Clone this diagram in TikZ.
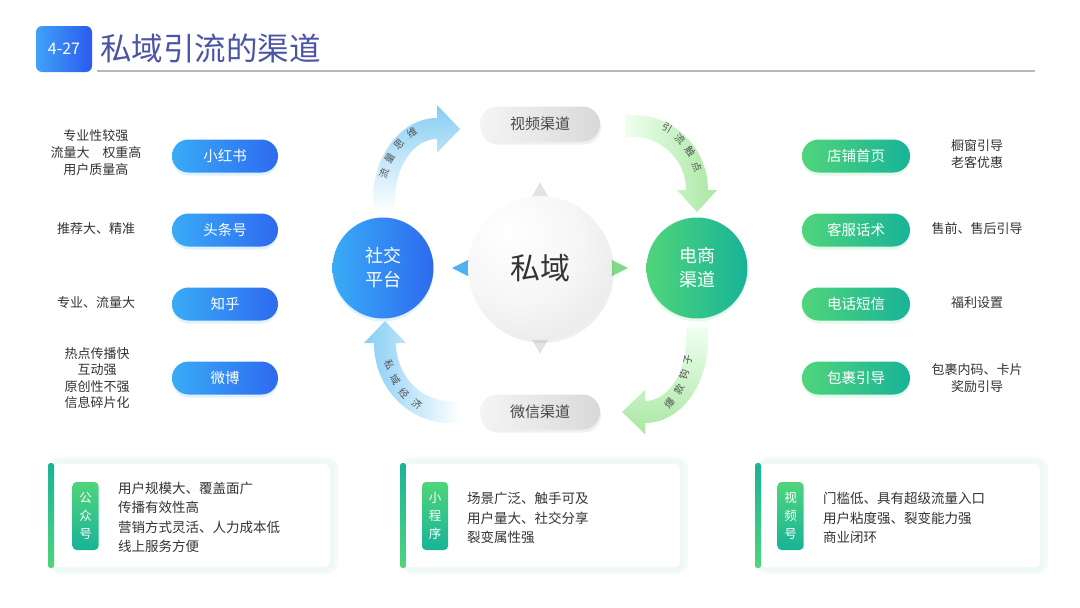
\documentclass[tikz,border=0pt]{standalone}
\usepackage{fontspec}
\setmainfont{Noto Sans CJK SC}
\usetikzlibrary{shadows}
\definecolor{titleblue}{HTML}{4B55A6}
\definecolor{badgeA}{HTML}{3FA2F8}
\definecolor{badgeB}{HTML}{2C5AEF}
\definecolor{blueA}{HTML}{39ABF6}
\definecolor{blueB}{HTML}{2E6AF0}
\definecolor{greenA}{HTML}{50D57B}
\definecolor{greenB}{HTML}{18B398}
\definecolor{textgray}{HTML}{333333}
\definecolor{arrblue}{HTML}{86CDF4}
\definecolor{arrgreen}{HTML}{A9E7A2}
\definecolor{glowc}{HTML}{EEF9F6}
\definecolor{triblue}{HTML}{4DB2EE}
\definecolor{trigreen}{HTML}{7EDB8C}
\pgfdeclarelayer{bg}
\pgfsetlayers{bg,main}
\pgfdeclareradialshading{sphere}{\pgfpoint{-12bp}{14bp}}{color(0bp)=(white); color(22bp)=(gray!7); color(48bp)=(gray!25); color(70bp)=(gray!38)}
\begin{document}
\begin{tikzpicture}[x=1pt,y=-1pt,
  bpill/.style={rectangle, rounded corners=16.5pt, minimum width=106pt, minimum height=33pt, left color=blueA, right color=blueB, text=white, font=\fontsize{14.5}{17}\selectfont, drop shadow={shadow xshift=0pt, shadow yshift=-3pt, opacity=.15, fill=blueA}},
  gpill/.style={rectangle, rounded corners=16.5pt, minimum width=108pt, minimum height=33pt, left color=greenA, right color=greenB, text=white, font=\fontsize{14.5}{17}\selectfont, drop shadow={shadow xshift=0pt, shadow yshift=-3pt, opacity=.15, fill=greenA}},
  graypill/.style={rectangle, rounded corners=17.5pt, minimum width=120pt, minimum height=35pt, left color=gray!8, right color=gray!30, text=textgray!90, font=\fontsize{15}{17}\selectfont, drop shadow={shadow xshift=1pt, shadow yshift=-3pt, opacity=.12}},
  bigcirc/.style={circle, minimum size=101pt, inner sep=0pt, text=white, align=center, font=\fontsize{18}{24}\selectfont},
  lbl/.style={text=textgray, align=center, inner sep=0pt, font=\fontsize{13}{17}\selectfont},
  arrtxt/.style={text=textgray!85, inner sep=0pt, font=\fontsize{10}{12}\selectfont},
  conn/.style={draw=gray!55, line width=0.8pt},
  tagbox/.style={rectangle, rounded corners=4pt, minimum width=26pt, minimum height=68pt, top color=greenA, bottom color=greenB, text=white, align=center, inner sep=0pt, font=\fontsize{12.5}{18}\selectfont},
  cardtxt/.style={anchor=west, text=textgray, align=left, inner sep=0pt, font=\fontsize{13.5}{19.5}\selectfont}
]
\useasboundingbox (0,0) rectangle (1080,608);
\fill[white] (0,0) rectangle (1080,608);

% ---------- title ----------
\node[rectangle, rounded corners=6pt, minimum width=56pt, minimum height=46pt, left color=badgeA, right color=badgeB, text=white, font=\fontsize{16}{18}\selectfont] (badge) at (64,49) {4-27};
\node[anchor=west, inner sep=0pt, text=titleblue, font=\fontsize{31.5}{34}\selectfont] (title) at (100,48) {私域引流的渠道};
\coordinate (ruleA) at (97,71);
\coordinate (ruleB) at (1035,71);
\draw[gray!55, line width=1.3pt] (ruleA) -- (ruleB);

% ---------- curved band arrows ----------
\shade[top color=arrblue, bottom color=white]
  (373,212) -- (373,200) arc[start angle=180,end angle=270,x radius=64,y radius=82]
  -- (437,105) -- (460,129) -- (437,153) -- (437,139)
  arc[start angle=270,end angle=180,x radius=42,y radius=61] -- (395,212) -- cycle;
\shade[left color=green!6!white, right color=arrgreen]
  (625,115) -- (633,115) arc[start angle=270,end angle=360,radius=75]
  -- (717,190) -- (697,212) -- (677,190) -- (686,190)
  arc[start angle=360,end angle=270,radius=53] -- (625,137) -- cycle;
\shade[top color=green!6!white, bottom color=arrgreen]
  (708,328) -- (708,340) arc[start angle=0,end angle=90,x radius=63,y radius=83]
  -- (645,434) -- (622,412) -- (645,390) -- (645,401)
  arc[start angle=90,end angle=0,x radius=41,y radius=61] -- (686,328) -- cycle;
\shade[left color=arrblue, right color=white]
  (460,423) -- (450,423) arc[start angle=90,end angle=180,x radius=76,y radius=80]
  -- (364,343) -- (385,321) -- (406,343) -- (396,343)
  arc[start angle=180,end angle=90,x radius=54,y radius=58] -- (460,401) -- cycle;

\node[arrtxt, rotate=70] (t11) at (384,173) {流};
\node[arrtxt, rotate=58] (t12) at (390,158) {量};
\node[arrtxt, rotate=46] (t13) at (399,144) {思};
\node[arrtxt, rotate=33] (t14) at (412,133) {维};

\node[arrtxt, rotate=-30] (t21) at (667,128) {引};
\node[arrtxt, rotate=-43] (t22) at (680,139) {流};
\node[arrtxt, rotate=-56] (t23) at (690,152) {触};
\node[arrtxt, rotate=-70] (t24) at (697,167) {点};

\node[arrtxt, rotate=50] (t31) at (670,403) {爆};
\node[arrtxt, rotate=62] (t32) at (679,389) {款};
\node[arrtxt, rotate=72] (t33) at (684,375) {钩};
\node[arrtxt, rotate=80] (t34) at (688,360) {子};

\node[arrtxt, rotate=-70] (t41) at (389,365) {私};
\node[arrtxt, rotate=-58] (t42) at (395,380) {域};
\node[arrtxt, rotate=-46] (t43) at (404,393) {经};
\node[arrtxt, rotate=-34] (t44) at (417,404) {济};

% ---------- centre ----------
\fill[gray!22] (540,182) -- (550,200) -- (530,200) -- cycle;
\fill[gray!22] (540,354) -- (550,336) -- (530,336) -- cycle;
\fill[triblue] (452,268) -- (470,259) -- (470,277) -- cycle;
\fill[trigreen] (628,268) -- (610,259) -- (610,277) -- cycle;
\node[circle, minimum size=144pt, inner sep=0pt, shade, shading=sphere, text=textgray, font=\fontsize{30}{34}\selectfont, drop shadow={shadow xshift=2pt, shadow yshift=-3pt, opacity=.12}] (siyu) at (540,268) {私域};

\node[graypill] (video) at (540,124) {视频渠道};
\node[graypill] (wechat) at (540,412) {微信渠道};

% ---------- left side ----------
\node[bigcirc, left color=blueA, right color=blueB, drop shadow={shadow xshift=0pt, shadow yshift=-3pt, opacity=.15, fill=blueA}] (social) at (383,268) {社交\\平台};
\node[bpill] (xhs) at (225,156) {小红书};
\node[bpill] (toutiao) at (225,230) {头条号};
\node[bpill] (zhihu) at (225,304) {知乎};
\node[bpill] (weibo) at (225,378) {微博};

\node[lbl] (lx) at (96,153) {专业性较强\\流量大\hspace{1em}权重高\\用户质量高};
\node[lbl] (lt) at (96,229) {推荐大、精准};
\node[lbl] (lz) at (96,303) {专业、流量大};
\node[lbl, font=\fontsize{13}{16.5}\selectfont] (lw) at (97,378) {热点传播快\\互动强\\原创性不强\\信息碎片化};

% ---------- right side ----------
\node[bigcirc, left color=greenA, right color=greenB, drop shadow={shadow xshift=0pt, shadow yshift=-3pt, opacity=.15, fill=greenA}] (ecom) at (697,268) {电商\\渠道};
\node[gpill] (shop) at (856,156) {店铺首页};
\node[gpill] (kefu) at (856,230) {客服话术};
\node[gpill] (phone) at (856,304) {电话短信};
\node[gpill] (parcel) at (856,378) {包裹引导};

\node[lbl] (rs) at (977,154) {橱窗引导\\老客优惠};
\node[lbl] (rk) at (977,229) {售前、售后引导};
\node[lbl] (rp) at (977,303) {福利设置};
\node[lbl] (rb) at (977,378) {包裹内码、卡片\\奖励引导};

% ---------- connectors ----------
\begin{pgfonlayer}{bg}
\draw[conn, rounded corners=16pt] (xhs.east) -- (356,156) -- (356,378) -- (weibo.east);
\draw[conn] (toutiao.east) -- (322,230) .. controls (333,230) and (338,234) .. (social.150);
\draw[conn] (zhihu.east) -- (322,304) .. controls (333,304) and (338,299) .. (social.210);
\draw[conn, rounded corners=16pt] (shop.west) -- (727,156) -- (727,378) -- (parcel.west);
\draw[conn] (kefu.west) -- (762,230) .. controls (751,230) and (745,234) .. (ecom.30);
\draw[conn] (phone.west) -- (762,304) .. controls (751,304) and (745,299) .. (ecom.330);
\end{pgfonlayer}

% ---------- cards ----------
\foreach \xa/\xb in {52/330, 404/680, 759/1040}{
  \fill[glowc!70!white, rounded corners=12pt] (\xa-3,457) rectangle (\xb+8,574);
  \fill[glowc, rounded corners=9pt] (\xa,460) rectangle (\xb+4,571);
  \fill[white, rounded corners=6pt] (\xa,464) rectangle (\xb,567);
}
\shade[top color=greenB, bottom color=greenA, rounded corners=2.5pt] (48,463) rectangle (54,568);
\shade[top color=greenB, bottom color=greenA, rounded corners=2.5pt] (400,463) rectangle (406,568);
\shade[top color=greenB, bottom color=greenA, rounded corners=2.5pt] (755,463) rectangle (761,568);

\node[tagbox] (g1) at (85.5,516) {公\\众\\号};
\node[tagbox] (g2) at (435,516) {小\\程\\序};
\node[tagbox] (g3) at (790.5,516) {视\\频\\号};

\node[cardtxt] (c1) at (118,517.5) {用户规模大、覆盖面广\\传播有效性高\\营销方式灵活、人力成本低\\线上服务方便};
\node[cardtxt] (c2) at (467,518) {场景广泛、触手可及\\用户量大、社交分享\\裂变属性强};
\node[cardtxt] (c3) at (823,518) {门槛低、具有超级流量入口\\用户粘度强、裂变能力强\\商业闭环};
\end{tikzpicture}
\end{document}
